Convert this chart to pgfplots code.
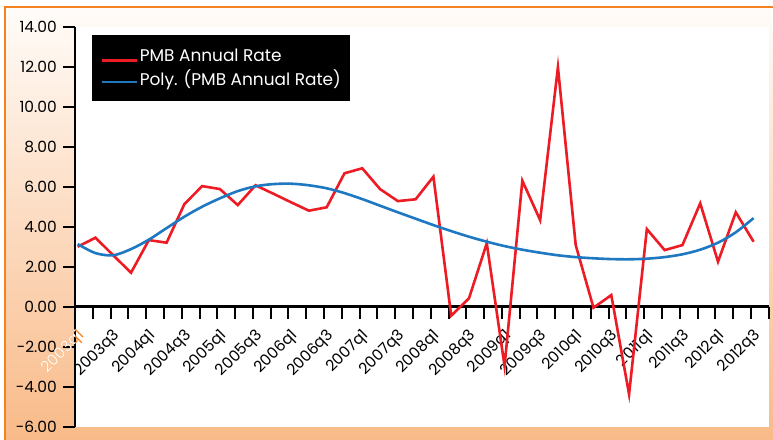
\documentclass[border=0pt]{standalone}
\usepackage{fontspec}
\setmainfont{Poppins}
\usepackage{pgfplots}
\pgfplotsset{compat=1.18}
\definecolor{pmbred}{RGB}{237,28,36}
\definecolor{polyblue}{RGB}{30,120,194}
\definecolor{frameorange}{RGB}{245,130,32}
\definecolor{bgtop}{RGB}{255,252,249}
\definecolor{bgbot}{RGB}{249,186,136}
\pgfplotstableread{
x y
0 3.00
1 3.45
2 2.57
3 1.70
4 3.33
5 3.20
6 5.13
7 6.03
8 5.88
9 5.08
10 6.07
11 5.65
12 5.22
13 4.80
14 4.97
15 6.67
16 6.92
17 5.88
18 5.28
19 5.37
20 6.50
21 -0.45
22 0.42
23 3.17
24 -2.97
25 6.30
26 4.33
27 11.97
28 3.08
29 -0.05
30 0.58
31 -4.38
32 3.88
33 2.83
34 3.08
35 5.17
36 2.25
37 4.72
38 3.25
}\pmb
\pgfplotstableread{
x y
0 3.13
1 2.68
2 2.57
3 2.88
4 3.35
5 3.93
6 4.50
7 5.00
8 5.42
9 5.78
10 6.02
11 6.13
12 6.15
13 6.07
14 5.92
15 5.68
16 5.38
17 5.05
18 4.72
19 4.40
20 4.08
21 3.78
22 3.50
23 3.25
24 3.03
25 2.85
26 2.70
27 2.57
28 2.48
29 2.42
30 2.38
31 2.37
32 2.40
33 2.48
34 2.62
35 2.85
36 3.20
37 3.72
38 4.43
}\poly
\newcommand\tfont{\fontsize{15.5}{18}\selectfont}
\begin{document}
\begin{tikzpicture}
\path[use as bounding box] (0bp,0bp) rectangle (773bp,440bp);
\fill[white] (0bp,0bp) rectangle (773bp,440bp);
\shade[top color=bgtop, bottom color=bgbot] (5bp,0bp) rectangle (773bp,432.5bp);
\fill[white] (75bp,13.3bp) rectangle (769bp,413.3bp);
\draw[frameorange, line width=2bp] (5bp,0bp) -- (5bp,432.5bp) -- (773bp,432.5bp);
\begin{axis}[
  at={(75bp,13.3bp)}, anchor=south west,
  scale only axis, width=693.7bp, height=400bp,
  xmin=-0.15, xmax=38.85, ymin=-6, ymax=14,
  axis y line=left, axis x line=middle,
  axis line style={-, black, line width=2.5bp},
  tick align=outside,
  major tick length=12bp, minor tick length=12bp,
  tick style={black, line width=2bp},
  ytick={-6,-4,...,14},
  xtick={0,2,...,38},
  major x tick style={draw=none},
  minor xtick={-0.15,0.85,1.85,2.85,3.85,4.85,5.85,6.85,7.85,8.85,9.85,10.85,11.85,12.85,13.85,14.85,15.85,16.85,17.85,18.85,19.85,20.85,21.85,22.85,23.85,24.85,25.85,26.85,27.85,28.85,29.85,30.85,31.85,32.85,33.85,34.85,35.85,36.85,37.85,38.85},
  xticklabels={\textcolor{frameorange}{2003q1},2003q3,2004q1,2004q3,2005q1,2005q3,2006q1,2006q3,2007q1,2007q3,2008q1,2008q3,2009q1,2009q3,2010q1,2010q3,2011q1,2011q3,2012q1,2012q3},
  /pgf/number format/assume math mode=true,
  yticklabel style={/pgf/number format/fixed, /pgf/number format/fixed zerofill, /pgf/number format/precision=2},
  yticklabel style={font=\tfont, inner sep=0pt, xshift=-6bp},
  xticklabel style={font=\tfont, inner sep=0pt, yshift=-9bp, xshift=-1bp, rotate=45, anchor=north east},
  legend style={fill=black, draw=none, at={(0.0245,0.979)}, anchor=north west,
    inner xsep=9bp, inner ysep=13bp, row sep=4bp,
    font=\fontsize{17}{20}\selectfont, text=white, nodes={inner sep=1bp}},
  legend cell align=left,
  legend image code/.code={\path[draw=none,fill=none] (0bp,-6bp) rectangle (35bp,6bp); \draw[#1] (0bp,-4bp) -- (35bp,-4bp);},
]
\addplot[pmbred, line width=2.6bp] table[x=x,y=y] {\pmb};
\addlegendentry{\makebox[200bp][l]{PMB Annual Rate}}
\addplot[polyblue, line width=2.6bp, smooth] table[x=x,y=y] {\poly};
\addlegendentry{\makebox[200bp][l]{Poly. (PMB Annual Rate)}}
\coordinate (lab0) at (axis cs:0,0);
\end{axis}
\begin{scope}
\clip (0bp,0bp) rectangle (74bp,440bp);
\node[inner sep=0pt, text=white, font=\tfont, yshift=-21bp, xshift=-1bp, rotate=45, anchor=north east] at (lab0) {2003q1};
\end{scope}
\end{tikzpicture}
\end{document}
